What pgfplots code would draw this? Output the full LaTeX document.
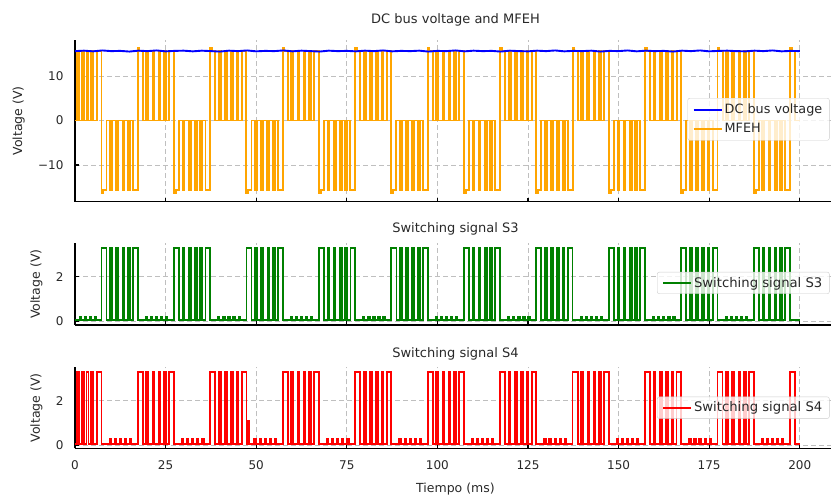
\documentclass[border=0pt]{standalone}
\usepackage{pgfplots}
\pgfplotsset{compat=1.18}
\usepackage{fontspec}
\setmainfont{DejaVu Sans}
\definecolor{mfeh}{RGB}{255,165,0}
\definecolor{sgreen}{RGB}{0,128,0}
\definecolor{txt}{RGB}{40,40,40}
\pgfplotsset{
  base/.style={
    scale only axis, width=761pt, xmin=0, xmax=210,
    axis lines*=left, axis line style={black, line width=1.2pt, -},
    tick align=inside, major tick length=4pt, tick style={black, line width=1.1pt},
    xtick={0,25,...,200},
    grid=major, major grid style={gray!50, dash pattern=on 5pt off 3pt, line width=0.8pt},
    /pgf/number format/assume math mode=true,
    tick label style={font=\fontsize{12}{14}\selectfont, text=txt},
    yticklabel style={xshift=-8pt},
    xticklabel style={yshift=-9pt},
    ylabel={Voltage (V)}, ylabel style={font=\fontsize{12.5}{14}\selectfont, text=txt},
    ylabel shift=6.5pt,
    title style={font=\fontsize{13}{15}\selectfont, text=txt, at={(0.5,1)}, anchor=base},
    legend cell align=left,
    legend image code/.code={\draw[#1] (0pt,0pt) -- (28pt,0pt);},
    legend style={draw=black!20, rounded corners=2pt, fill=white, fill opacity=0.8, text opacity=1, draw opacity=1, inner xsep=5pt, inner ysep=3pt, row sep=3pt, anchor=north east, text=txt},
  }
}
\begin{document}
\begin{tikzpicture}
\useasboundingbox (0,0) rectangle (831pt,495pt);
% ---------------- top panel
\begin{axis}[base, at={(75pt,293.3pt)}, anchor=south west, height=161.7pt,
  ymin=-18.25, ymax=18.1, ytick={-10,0,10}, yticklabels={−10,0,10}, xticklabels={},
  title={DC bus voltage and MFEH}, title style={yshift=10pt},
  legend style={at={(0.9915,0.641)}, font=\fontsize{12.8}{14}\selectfont, row sep=4pt, inner ysep=4pt}]
\addplot[const plot, mfeh, line width=1.9pt, forget plot] coordinates {
(0,0)(0.5,15.6)(1.0,0)(1.9,15.6)(2.4,0)(3.2,15.6)(3.7,0)(4.5,15.6)(5.0,0)(6.0,15.6)
(7.3,-16.3)(7.8,-15.7)(8.7,0)(9.7,-15.6)(10.2,0)(11.4,-15.6)(11.9,0)(13.1,-15.6)(13.6,0)(14.6,-15.6)(15.1,0)(16.0,-15.6)
(17.3,16.3)(17.8,15.7)(18.7,0)(19.7,15.6)(20.2,0)(21.4,15.6)(21.9,0)(23.1,15.6)(23.6,0)(24.6,15.6)(25.1,0)(26.0,15.6)
(27.3,-16.3)(27.8,-15.7)(28.7,0)(29.7,-15.6)(30.2,0)(31.4,-15.6)(31.9,0)(33.1,-15.6)(33.6,0)(34.6,-15.6)(35.1,0)(36.0,-15.6)
(37.3,16.3)(37.8,15.7)(38.7,0)(39.7,15.6)(40.2,0)(41.4,15.6)(41.9,0)(43.1,15.6)(43.6,0)(44.6,15.6)(45.1,0)(46.0,15.6)
(47.3,-16.3)(47.8,-15.7)(48.7,0)(49.7,-15.6)(50.2,0)(51.4,-15.6)(51.9,0)(53.1,-15.6)(53.6,0)(54.6,-15.6)(55.1,0)(56.0,-15.6)
(57.3,16.3)(57.8,15.7)(58.7,0)(59.7,15.6)(60.2,0)(61.4,15.6)(61.9,0)(63.1,15.6)(63.6,0)(64.6,15.6)(65.1,0)(66.0,15.6)
(67.3,-16.3)(67.8,-15.7)(68.7,0)(69.7,-15.6)(70.2,0)(71.4,-15.6)(71.9,0)(73.1,-15.6)(73.6,0)(74.6,-15.6)(75.1,0)(76.0,-15.6)
(77.3,16.3)(77.8,15.7)(78.7,0)(79.7,15.6)(80.2,0)(81.4,15.6)(81.9,0)(83.1,15.6)(83.6,0)(84.6,15.6)(85.1,0)(86.0,15.6)
(87.3,-16.3)(87.8,-15.7)(88.7,0)(89.7,-15.6)(90.2,0)(91.4,-15.6)(91.9,0)(93.1,-15.6)(93.6,0)(94.6,-15.6)(95.1,0)(96.0,-15.6)
(97.3,16.3)(97.8,15.7)(98.7,0)(99.7,15.6)(100.2,0)(101.4,15.6)(101.9,0)(103.1,15.6)(103.6,0)(104.6,15.6)(105.1,0)(106.0,15.6)
(107.3,-16.3)(107.8,-15.7)(108.7,0)(109.7,-15.6)(110.2,0)(111.4,-15.6)(111.9,0)(113.1,-15.6)(113.6,0)(114.6,-15.6)(115.1,0)(116.0,-15.6)
(117.3,16.3)(117.8,15.7)(118.7,0)(119.7,15.6)(120.2,0)(121.4,15.6)(121.9,0)(123.1,15.6)(123.6,0)(124.6,15.6)(125.1,0)(126.0,15.6)
(127.3,-16.3)(127.8,-15.7)(128.7,0)(129.7,-15.6)(130.2,0)(131.4,-15.6)(131.9,0)(133.1,-15.6)(133.6,0)(134.6,-15.6)(135.1,0)(136.0,-15.6)
(137.3,16.3)(137.8,15.7)(138.7,0)(139.7,15.6)(140.2,0)(141.4,15.6)(141.9,0)(143.1,15.6)(143.6,0)(144.6,15.6)(145.1,0)(146.0,15.6)
(147.3,-16.3)(147.8,-15.7)(148.7,0)(149.7,-15.6)(150.2,0)(151.4,-15.6)(151.9,0)(153.1,-15.6)(153.6,0)(154.6,-15.6)(155.1,0)(156.0,-15.6)
(157.3,16.3)(157.8,15.7)(158.7,0)(159.7,15.6)(160.2,0)(161.4,15.6)(161.9,0)(163.1,15.6)(163.6,0)(164.6,15.6)(165.1,0)(166.0,15.6)
(167.3,-16.3)(167.8,-15.7)(168.7,0)(169.7,-15.6)(170.2,0)(171.4,-15.6)(171.9,0)(173.1,-15.6)(173.6,0)(174.6,-15.6)(175.1,0)(176.0,-15.6)
(177.3,16.3)(177.8,15.7)(178.7,0)(179.7,15.6)(180.2,0)(181.4,15.6)(181.9,0)(183.1,15.6)(183.6,0)(184.6,15.6)(185.1,0)(186.0,15.6)
(187.3,-16.3)(187.8,-15.7)(188.7,0)(189.7,-15.6)(190.2,0)(191.4,-15.6)(191.9,0)(193.1,-15.6)(193.6,0)(194.6,-15.6)(195.1,0)(196.0,-15.6)
(197.3,16.3)(197.8,15.7)(198.7,0)(200,0)
};
\addplot[blue, line width=1.9pt] coordinates {
(0,15.6)(2.5,15.7)(5,15.55)(7.5,15.75)(10,15.6)(12.5,15.65)(15,15.5)(17.5,15.7)(20,15.6)(22.5,15.75)
(25,15.55)(27.5,15.65)(30,15.7)(32.5,15.55)(35,15.7)(37.5,15.6)(40,15.5)(42.5,15.7)(45,15.6)(47.5,15.75)
(50,15.55)(52.5,15.65)(55,15.6)(57.5,15.75)(60,15.55)(62.5,15.7)(65,15.6)(67.5,15.5)(70,15.7)(72.5,15.6)
(75,15.65)(77.5,15.55)(80,15.7)(82.5,15.6)(85,15.75)(87.5,15.55)(90,15.65)(92.5,15.6)(95,15.7)(97.5,15.5)
(100,15.65)(102.5,15.6)(105,15.75)(107.5,15.55)(110,15.7)(112.5,15.6)(115,15.65)(117.5,15.5)(120,15.7)(122.5,15.6)
(125,15.55)(127.5,15.7)(130,15.6)(132.5,15.75)(135,15.55)(137.5,15.65)(140,15.6)(142.5,15.7)(145,15.5)(147.5,15.65)
(150,15.6)(152.5,15.75)(155,15.55)(157.5,15.7)(160,15.6)(162.5,15.65)(165,15.5)(167.5,15.7)(170,15.6)(172.5,15.75)
(175,15.55)(177.5,15.65)(180,15.7)(182.5,15.6)(185,15.55)(187.5,15.7)(190,15.6)(192.5,15.75)(195,15.55)(197.5,15.65)(200,15.6)
};
\addlegendentry{DC bus voltage}
\addlegendimage{mfeh, line width=1.9pt}
\addlegendentry{MFEH}
\end{axis}
% ---------------- middle panel
\begin{axis}[base, at={(75pt,170pt)}, anchor=south west, height=81.7pt,
  ymin=-0.17, ymax=3.5, ytick={0,2}, xticklabels={},
  title={Switching signal S3}, title style={yshift=5pt},
  legend style={at={(0.9915,0.649)}, font=\fontsize{13.2}{15}\selectfont}]
\addplot[const plot, sgreen, line width=1.8pt] coordinates {
(0,0.05)(1.3,0.2)(1.7,0.05)(2.7,0.2)(3.1,0.05)(4.1,0.2)(4.5,0.05)(5.5,0.2)(5.9,0.05)
(7.3,3.3)(8.7,0.05)(9.7,3.3)(10.2,0.05)(11.4,3.3)(11.9,0.05)(13.1,3.3)(13.6,0.05)(14.6,3.3)(15.1,0.05)(16.0,3.3)
(17.3,0.05)(19.5,0.2)(19.9,0.05)(20.9,0.2)(21.3,0.05)(22.3,0.2)(22.7,0.05)(23.7,0.2)(24.1,0.05)(25.1,0.2)(25.5,0.05)
(27.3,3.3)(28.7,0.05)(29.7,3.3)(30.2,0.05)(31.4,3.3)(31.9,0.05)(33.1,3.3)(33.6,0.05)(34.6,3.3)(35.1,0.05)(36.0,3.3)
(37.3,0.05)(39.5,0.2)(39.9,0.05)(40.9,0.2)(41.3,0.05)(42.3,0.2)(42.7,0.05)(43.7,0.2)(44.1,0.05)(45.1,0.2)(45.5,0.05)
(47.3,3.3)(48.7,0.05)(49.7,3.3)(50.2,0.05)(51.4,3.3)(51.9,0.05)(53.1,3.3)(53.6,0.05)(54.6,3.3)(55.1,0.05)(56.0,3.3)
(57.3,0.05)(59.5,0.2)(59.9,0.05)(60.9,0.2)(61.3,0.05)(62.3,0.2)(62.7,0.05)(63.7,0.2)(64.1,0.05)(65.1,0.2)(65.5,0.05)
(67.3,3.3)(68.7,0.05)(69.7,3.3)(70.2,0.05)(71.4,3.3)(71.9,0.05)(73.1,3.3)(73.6,0.05)(74.6,3.3)(75.1,0.05)(76.0,3.3)
(77.3,0.05)(79.5,0.2)(79.9,0.05)(80.9,0.2)(81.3,0.05)(82.3,0.2)(82.7,0.05)(83.7,0.2)(84.1,0.05)(85.1,0.2)(85.5,0.05)
(87.3,3.3)(88.7,0.05)(89.7,3.3)(90.2,0.05)(91.4,3.3)(91.9,0.05)(93.1,3.3)(93.6,0.05)(94.6,3.3)(95.1,0.05)(96.0,3.3)
(97.3,0.05)(99.5,0.2)(99.9,0.05)(100.9,0.2)(101.3,0.05)(102.3,0.2)(102.7,0.05)(103.7,0.2)(104.1,0.05)(105.1,0.2)(105.5,0.05)
(107.3,3.3)(108.7,0.05)(109.7,3.3)(110.2,0.05)(111.4,3.3)(111.9,0.05)(113.1,3.3)(113.6,0.05)(114.6,3.3)(115.1,0.05)(116.0,3.3)
(117.3,0.05)(119.5,0.2)(119.9,0.05)(120.9,0.2)(121.3,0.05)(122.3,0.2)(122.7,0.05)(123.7,0.2)(124.1,0.05)(125.1,0.2)(125.5,0.05)
(127.3,3.3)(128.7,0.05)(129.7,3.3)(130.2,0.05)(131.4,3.3)(131.9,0.05)(133.1,3.3)(133.6,0.05)(134.6,3.3)(135.1,0.05)(136.0,3.3)
(137.3,0.05)(139.5,0.2)(139.9,0.05)(140.9,0.2)(141.3,0.05)(142.3,0.2)(142.7,0.05)(143.7,0.2)(144.1,0.05)(145.1,0.2)(145.5,0.05)
(147.3,3.3)(148.7,0.05)(149.7,3.3)(150.2,0.05)(151.4,3.3)(151.9,0.05)(153.1,3.3)(153.6,0.05)(154.6,3.3)(155.1,0.05)(156.0,3.3)
(157.3,0.05)(159.5,0.2)(159.9,0.05)(160.9,0.2)(161.3,0.05)(162.3,0.2)(162.7,0.05)(163.7,0.2)(164.1,0.05)(165.1,0.2)(165.5,0.05)
(167.3,3.3)(168.7,0.05)(169.7,3.3)(170.2,0.05)(171.4,3.3)(171.9,0.05)(173.1,3.3)(173.6,0.05)(174.6,3.3)(175.1,0.05)(176.0,3.3)
(177.3,0.05)(179.5,0.2)(179.9,0.05)(180.9,0.2)(181.3,0.05)(182.3,0.2)(182.7,0.05)(183.7,0.2)(184.1,0.05)(185.1,0.2)(185.5,0.05)
(187.3,3.3)(188.7,0.05)(189.7,3.3)(190.2,0.05)(191.4,3.3)(191.9,0.05)(193.1,3.3)(193.6,0.05)(194.6,3.3)(195.1,0.05)(196.0,3.3)
(197.3,0.05)(200,0.05)
};
\addlegendentry{Switching signal S3}
\end{axis}
% ---------------- bottom panel
\begin{axis}[base, at={(75pt,46.7pt)}, anchor=south west, height=81pt,
  ymin=-0.12, ymax=3.5, ytick={0,2},
  title={Switching signal S4}, title style={yshift=3.5pt},
  xlabel={Tiempo (ms)}, xlabel style={font=\fontsize{12.5}{14}\selectfont, text=txt, at={(axis description cs:0.5,0)}, anchor=base, yshift=-44pt},
  legend style={at={(0.9915,0.637)}, font=\fontsize{13.2}{15}\selectfont}]
\addplot[const plot, red, line width=1.8pt] coordinates {
(0,0.08)(0.5,3.3)(1.0,0.08)(1.9,3.3)(2.4,0.08)(3.2,3.3)(3.7,0.08)(4.5,3.3)(5.0,0.08)(6.0,3.3)
(7.3,0.08)(9.5,0.3)(9.9,0.08)(10.9,0.3)(11.3,0.08)(12.3,0.3)(12.7,0.08)(13.7,0.3)(14.1,0.08)(15.1,0.3)(15.5,0.08)
(17.3,3.3)(18.7,0.08)(19.7,3.3)(20.2,0.08)(21.4,3.3)(21.9,0.08)(23.1,3.3)(23.6,0.08)(24.6,3.3)(25.1,0.08)(26.0,3.3)
(27.3,0.08)(29.5,0.3)(29.9,0.08)(30.9,0.3)(31.3,0.08)(32.3,0.3)(32.7,0.08)(33.7,0.3)(34.1,0.08)(35.1,0.3)(35.5,0.08)
(37.3,3.3)(38.7,0.08)(39.7,3.3)(40.2,0.08)(41.4,3.3)(41.9,0.08)(43.1,3.3)(43.6,0.08)(44.6,3.3)(45.1,0.08)(46.0,3.3)
(47.3,0.08)(47.8,1.1)(48.0,0.08)(49.5,0.3)(49.9,0.08)(50.9,0.3)(51.3,0.08)(52.3,0.3)(52.7,0.08)(53.7,0.3)(54.1,0.08)(55.1,0.3)(55.5,0.08)
(57.3,3.3)(58.7,0.08)(59.7,3.3)(60.2,0.08)(61.4,3.3)(61.9,0.08)(63.1,3.3)(63.6,0.08)(64.6,3.3)(65.1,0.08)(66.0,3.3)
(67.3,0.08)(69.5,0.3)(69.9,0.08)(70.9,0.3)(71.3,0.08)(72.3,0.3)(72.7,0.08)(73.7,0.3)(74.1,0.08)(75.1,0.3)(75.5,0.08)
(77.3,3.3)(78.7,0.08)(79.7,3.3)(80.2,0.08)(81.4,3.3)(81.9,0.08)(83.1,3.3)(83.6,0.08)(84.6,3.3)(85.1,0.08)(86.0,3.3)
(87.3,0.08)(89.5,0.3)(89.9,0.08)(90.9,0.3)(91.3,0.08)(92.3,0.3)(92.7,0.08)(93.7,0.3)(94.1,0.08)(95.1,0.3)(95.5,0.08)
(97.3,3.3)(98.7,0.08)(99.7,3.3)(100.2,0.08)(101.4,3.3)(101.9,0.08)(103.1,3.3)(103.6,0.08)(104.6,3.3)(105.1,0.08)(106.0,3.3)
(107.3,0.08)(109.5,0.3)(109.9,0.08)(110.9,0.3)(111.3,0.08)(112.3,0.3)(112.7,0.08)(113.7,0.3)(114.1,0.08)(115.1,0.3)(115.5,0.08)
(117.3,3.3)(118.7,0.08)(119.7,3.3)(120.2,0.08)(121.4,3.3)(121.9,0.08)(123.1,3.3)(123.6,0.08)(124.6,3.3)(125.1,0.08)(126.0,3.3)
(127.3,0.08)(129.5,0.3)(129.9,0.08)(130.9,0.3)(131.3,0.08)(132.3,0.3)(132.7,0.08)(133.7,0.3)(134.1,0.08)(135.1,0.3)(135.5,0.08)
(137.3,3.3)(138.7,0.08)(139.7,3.3)(140.2,0.08)(141.4,3.3)(141.9,0.08)(143.1,3.3)(143.6,0.08)(144.6,3.3)(145.1,0.08)(146.0,3.3)
(147.3,0.08)(149.5,0.3)(149.9,0.08)(150.9,0.3)(151.3,0.08)(152.3,0.3)(152.7,0.08)(153.7,0.3)(154.1,0.08)(155.1,0.3)(155.5,0.08)
(157.3,3.3)(158.7,0.08)(159.7,3.3)(160.2,0.08)(161.4,3.3)(161.9,0.08)(163.1,3.3)(163.6,0.08)(164.6,3.3)(165.1,0.08)(166.0,3.3)
(167.3,0.08)(169.5,0.3)(169.9,0.08)(170.9,0.3)(171.3,0.08)(172.3,0.3)(172.7,0.08)(173.7,0.3)(174.1,0.08)(175.1,0.3)(175.5,0.08)
(177.3,3.3)(178.7,0.08)(179.7,3.3)(180.2,0.08)(181.4,3.3)(181.9,0.08)(183.1,3.3)(183.6,0.08)(184.6,3.3)(185.1,0.08)(186.0,3.3)
(187.3,0.08)(189.5,0.3)(189.9,0.08)(190.9,0.3)(191.3,0.08)(192.3,0.3)(192.7,0.08)(193.7,0.3)(194.1,0.08)(195.1,0.3)(195.5,0.08)
(197.3,3.3)(198.7,0.08)(200,0.08)
};
\addlegendentry{Switching signal S4}
\end{axis}
\end{tikzpicture}
\end{document}
